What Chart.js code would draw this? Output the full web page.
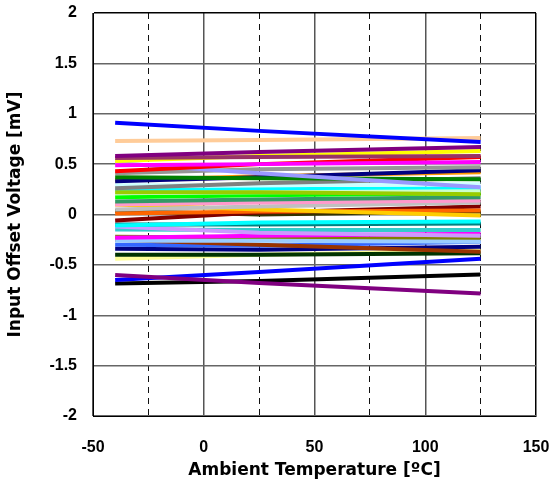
<!DOCTYPE html>
<html>
<head>
<meta charset="utf-8">
<script src="https://cdn.jsdelivr.net/npm/chart.js@4.4.1/dist/chart.umd.min.js"></script>
<style>
  html, body { margin: 0; padding: 0; background: #fff; }
  #wrap { width: 555px; height: 490px; }
</style>
</head>
<body>
<div id="wrap"><canvas id="chart" width="555" height="490"></canvas></div>
<script>
// Input offset voltage vs ambient temperature, one line per unit

const temps = [-40, 25, 125]

const xTicks = [-50, 0, 50, 100, 150]
const yTicks = [-2, -1.5, -1, -0.5, 0, 0.5, 1, 1.5, 2]

const seriesColors = [
  '#0000FF', '#FFCC99', '#800080', '#993366', '#FFFF00', '#FF00FF', '#FF0000', '#9999FF',
  '#969696', '#008000', '#000080', '#FF9900', '#808080', '#CCFFFF', '#99CC00', '#CCFFCC',
  '#00FF00', '#339966', '#00FFFF', '#FF99CC', '#C0C0C0', '#FFCC00', '#FF6600', '#800000',
  '#333300', '#00FFFF', '#008080', '#CC99FF', '#33CCCC', '#FF00FF', '#99CCFF', '#808000',
  '#993300', '#3366FF', '#000080', '#003300', '#FFFF99', '#800080', '#0000FF', '#000000'
]

const seriesValues = [
  [0.91, 0.83, 0.72],
  [0.73, 0.74, 0.76],
  [0.58, 0.62, 0.67],
  [0.56, 0.57, 0.58],
  [0.53, 0.58, 0.63],
  [0.49, 0.50, 0.52],
  [0.43, 0.50, 0.57],
  [0.51, 0.41, 0.27],
  [0.41, 0.45, 0.47],
  [0.37, 0.36, 0.35],
  [0.33, 0.37, 0.44],
  [0.34, 0.38, 0.42],
  [0.26, 0.31, 0.36],
  [0.29, 0.29, 0.30],
  [0.22, 0.22, 0.20],
  [0.21, 0.22, 0.23],
  [0.17, 0.19, 0.21],
  [0.13, 0.15, 0.17],
  [0.24, 0.25, 0.26],
  [0.10, 0.12, 0.14],
  [0.05, 0.08, 0.12],
  [0.10, 0.05, -0.01],
  [0.01, 0.03, 0.04],
  [-0.06, 0.02, 0.08],
  [0.035, 0.0, 0.03],
  [-0.11, -0.08, -0.07],
  [-0.10, -0.10, -0.09],
  [-0.12, -0.18, -0.21],
  [-0.15, -0.155, -0.155],
  [-0.23, -0.21, -0.19],
  [-0.26, -0.26, -0.27],
  [-0.22, -0.23, -0.24],
  [-0.25, -0.30, -0.37],
  [-0.30, -0.31, -0.27],
  [-0.34, -0.35, -0.32],
  [-0.40, -0.40, -0.385],
  [-0.44, -0.40, -0.36],
  [-0.60, -0.68, -0.785],
  [-0.65, -0.57, -0.44],
  [-0.685, -0.66, -0.595]
]

const tickFont = { family: "'Liberation Sans', Arial, sans-serif", size: 16, weight: 'bold' }
const titleFont = { family: "'DejaVu Sans', Verdana, sans-serif", size: 17, weight: 'bold' }

const datasets = seriesValues.map((vals, i) => ({
  data: vals.map((v, j) => ({ x: temps[j], y: v })),
  borderColor: seriesColors[i],
  backgroundColor: seriesColors[i],
  borderWidth: 4,
  pointRadius: 0,
  tension: 0,
  fill: false
}))

new Chart(document.getElementById('chart'), {
  type: 'line',
  data: { datasets },
  options: {
    responsive: false,
    animation: false,
    layout: { padding: { top: 13, right: 19, left: 0, bottom: 0 } },
    plugins: { legend: { display: false }, tooltip: { enabled: false } },
    scales: {
      x: {
        type: 'linear',
        min: xTicks[0],
        max: xTicks[xTicks.length - 1],
        afterFit: (scale) => {
          scale.height = 74
          scale.paddingLeft = 0
          scale.paddingRight = 0
        },
        ticks: {
          stepSize: 25,
          color: '#000',
          font: tickFont,
          padding: 22,
          maxRotation: 0,
          callback: (v) => (xTicks.includes(v) ? String(v) : '')
        },
        grid: {
          drawTicks: false,
          lineWidth: (ctx) => {
            const v = ctx.tick && ctx.tick.value
            return xTicks.includes(v) ? 1.5 : 1
          },
          color: (ctx) => {
            const v = ctx.tick && ctx.tick.value
            if (v === xTicks[xTicks.length - 1]) return '#000'
            return xTicks.includes(v) ? '#555' : '#111'
          }
        },
        border: {
          color: '#000',
          width: 1,
          dash: (ctx) => {
            const v = ctx.tick && ctx.tick.value
            return v !== undefined && !xTicks.includes(v) ? [6, 5] : []
          }
        },
        title: {
          display: true,
          text: 'Ambient Temperature [ºC]',
          color: '#000',
          font: titleFont,
          padding: { top: 0, bottom: 9 }
        }
      },
      y: {
        min: yTicks[0],
        max: yTicks[yTicks.length - 1],
        afterFit: (scale) => {
          scale.width = 93
          scale.paddingTop = 0
          scale.paddingBottom = 0
        },
        ticks: {
          stepSize: 0.5,
          color: '#000',
          font: tickFont,
          padding: 16,
          callback: (v) => String(v)
        },
        grid: {
          drawTicks: false,
          lineWidth: 1.5,
          color: (ctx) => {
            const v = ctx.tick && ctx.tick.value
            return v === yTicks[yTicks.length - 1] ? '#000' : '#666'
          }
        },
        border: { color: '#000', width: 1 },
        title: {
          display: true,
          text: 'Input Offset Voltage [mV]',
          color: '#000',
          font: titleFont,
          padding: { top: 5, bottom: 0 }
        }
      }
    }
  }
})
</script>
</body>
</html>
